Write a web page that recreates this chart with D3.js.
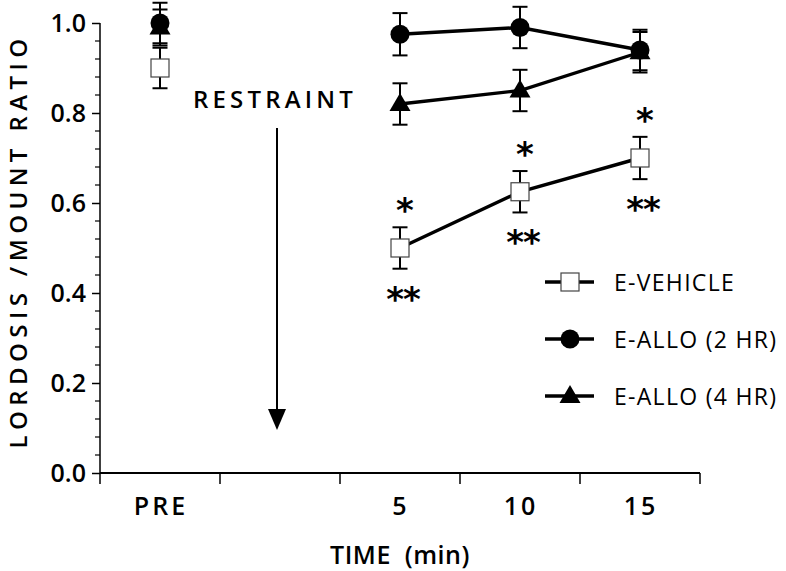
<!DOCTYPE html>
<html>
<head>
<meta charset="utf-8">
<script src="https://cdn.jsdelivr.net/npm/d3@7"></script>
<style>
  html, body { margin: 0; padding: 0; background: #fff; }
  svg { display: block; }
  text { font-family: "Open Sans", "DejaVu Sans", sans-serif; fill: #000; }
</style>
</head>
<body>
<svg id="chart" width="786" height="571"></svg>
<script>
// ---- data ----
const categories = ["PRE", "RESTRAINT", "5", "10", "15"];
const xTickLabels = ["PRE", "", "5", "10", "15"];
const yTickValues = [0.0, 0.2, 0.4, 0.6, 0.8, 1.0];
const seriesNames = ["E-VEHICLE", "E-ALLO (2 HR)", "E-ALLO (4 HR)"];
const vehicleMean = [0.90, null, 0.50, 0.625, 0.70];
const vehicleSem  = [0.045, null, 0.046, 0.046, 0.047];
const allo2Mean   = [1.00, null, 0.975, 0.99, 0.94];
const allo2Sem    = [0.045, null, 0.047, 0.046, 0.045];
const allo4Mean   = [0.99, null, 0.82, 0.85, 0.935];
const allo4Sem    = [0.040, null, 0.046, 0.046, 0.045];
const sigAbove    = ["", "", "*", "*", "*"];
const sigBelow    = ["", "", "**", "**", "**"];
const annotation  = "RESTRAINT";
const xTitle = "TIME  (min)";
const yTitle = "LORDOSIS /MOUNT RATIO";

// ---- layout ----
const svg = d3.select("#chart");
const mLeft = 100, mRight = 700, mTop = 23, mBottom = 473;

const x = d3.scaleBand().domain(categories).range([mLeft, mRight]).padding(0);
const y = d3.scaleLinear().domain([0, 1]).range([mBottom, mTop]);
const xc = c => x(c) + x.bandwidth() / 2;

// y axis
const yMinor = d3.range(0, 1.0001, 0.04).map(v => +v.toFixed(2));
const yAxis = d3.axisLeft(y).tickValues(yTickValues).tickFormat(d3.format(".1f")).tickSize(8).tickPadding(6);
const gy = svg.append("g").attr("transform", `translate(${mLeft},0)`).call(yAxis);
gy.select(".domain").attr("stroke", "#000").attr("stroke-width", 1.5).attr("d", `M0,${y(1)}V${y(0)}`);
gy.selectAll(".tick line").attr("stroke-width", 1.5);
gy.selectAll(".tick text").style("font-size", "25px").style("font-weight", "600")
  .style("font-family", "Open Sans").attr("dy", "0.35em");
svg.append("g").selectAll("line").data(yMinor.filter(v => !yTickValues.some(t => Math.abs(t - v) < 1e-6)))
  .join("line")
  .attr("x1", mLeft - 5).attr("x2", mLeft)
  .attr("y1", d => y(d)).attr("y2", d => y(d))
  .attr("stroke", "#000").attr("stroke-width", 1.2);

// x axis
svg.append("line").attr("x1", mLeft).attr("x2", mRight).attr("y1", y(0)).attr("y2", y(0))
  .attr("stroke", "#000").attr("stroke-width", 2);
const edges = categories.map(c => x(c)).concat([mRight]);
svg.append("g").selectAll("line").data(edges).join("line")
  .attr("x1", d => d).attr("x2", d => d)
  .attr("y1", y(0)).attr("y2", y(0) + 11)
  .attr("stroke", "#000").attr("stroke-width", 1.5);
svg.append("g").selectAll("text").data(categories).join("text")
  .attr("x", d => xc(d) + 1).attr("y", 515)
  .attr("text-anchor", "middle")
  .style("font-size", "25px").style("font-weight", "600").style("letter-spacing", "3px")
  .text((d, i) => xTickLabels[i]);

// titles
svg.append("text").attr("x", 400).attr("y", 564).attr("text-anchor", "middle")
  .style("font-size", "25px").style("font-weight", "600").style("letter-spacing", "0.5px")
  .attr("xml:space", "preserve").text(xTitle);
svg.append("text").attr("transform", "translate(27,241) rotate(-90)").attr("text-anchor", "middle")
  .style("font-size", "24px").style("font-weight", "600").style("letter-spacing", "5.4px")
  .attr("xml:space", "preserve")
  .text(yTitle);

// restraint annotation
svg.append("text").attr("x", 275).attr("y", 108).attr("text-anchor", "middle")
  .style("font-size", "24px").style("font-weight", "600").style("letter-spacing", "4.2px")
  .text(annotation);
const ax = xc("RESTRAINT") - 3;
svg.append("line").attr("x1", ax).attr("x2", ax).attr("y1", 128).attr("y2", 412)
  .attr("stroke", "#000").attr("stroke-width", 2);
svg.append("path").attr("d", `M${ax - 9},409L${ax + 9},409L${ax},430Z`).attr("fill", "#000");

// series
const series = [
  { name: seriesNames[0], mean: vehicleMean, sem: vehicleSem, shape: "square" },
  { name: seriesNames[2], mean: allo4Mean, sem: allo4Sem, shape: "triangle" },
  { name: seriesNames[1], mean: allo2Mean, sem: allo2Sem, shape: "circle" }
];

function drawMarker(g, shape, cx, cy) {
  if (shape === "square") {
    g.append("rect").attr("x", cx - 9).attr("y", cy - 9).attr("width", 18).attr("height", 18)
      .attr("fill", "#fff").attr("stroke", "#444").attr("stroke-width", 1.2);
  } else if (shape === "circle") {
    g.append("circle").attr("cx", cx).attr("cy", cy).attr("r", 9.5).attr("fill", "#000");
  } else {
    g.append("path").attr("d", `M${cx},${cy - 11}L${cx + 10.5},${cy + 7}L${cx - 10.5},${cy + 7}Z`).attr("fill", "#000");
  }
}

const line = d3.line().defined(d => d.v != null && d.c !== "PRE").x(d => xc(d.c)).y(d => y(d.v));

series.forEach(s => {
  const pts = categories.map((c, i) => ({ c, v: s.mean[i], e: s.sem[i] }));
  const g = svg.append("g");
  g.append("path").datum(pts).attr("d", line).attr("fill", "none")
    .attr("stroke", "#000").attr("stroke-width", 3.4);
  pts.filter(p => p.v != null).forEach(p => {
    const cx = xc(p.c);
    g.append("line").attr("x1", cx).attr("x2", cx).attr("y1", y(p.v + p.e)).attr("y2", y(p.v - p.e))
      .attr("stroke", "#000").attr("stroke-width", 2);
    [p.v + p.e, p.v - p.e].forEach(v => {
      g.append("line").attr("x1", cx - 7.5).attr("x2", cx + 7.5).attr("y1", y(v)).attr("y2", y(v))
        .attr("stroke", "#000").attr("stroke-width", 2);
    });
  });
  pts.filter(p => p.v != null).forEach(p => drawMarker(g, s.shape, xc(p.c), y(p.v)));
});

// significance marks (vehicle)
const fs = 34;
categories.forEach((c, i) => {
  if (vehicleMean[i] == null) return;
  if (sigAbove[i]) {
    svg.append("text").attr("x", xc(c) + 5).attr("y", y(vehicleMean[i] + vehicleSem[i]) - 24 + 0.56 * fs)
      .attr("text-anchor", "middle")
      .style("font-family", "DejaVu Sans").style("font-size", fs + "px").style("font-weight", "bold")
      .text(sigAbove[i]);
  }
  if (sigBelow[i]) {
    svg.append("text").attr("x", xc(c) + 3).attr("y", y(vehicleMean[i] - vehicleSem[i]) + 23 + 0.56 * fs)
      .attr("text-anchor", "middle")
      .style("font-family", "DejaVu Sans").style("font-size", fs + "px").style("font-weight", "bold")
      .style("letter-spacing", "-1px")
      .text(sigBelow[i]);
  }
});

// legend
const legendOrder = [
  { name: seriesNames[0], shape: "square" },
  { name: seriesNames[1], shape: "circle" },
  { name: seriesNames[2], shape: "triangle" }
];
const lg = svg.append("g");
legendOrder.forEach((d, i) => {
  const ly = 282 + i * 57;
  lg.append("line").attr("x1", 545).attr("x2", 594).attr("y1", ly).attr("y2", ly)
    .attr("stroke", "#000").attr("stroke-width", 3.4);
  drawMarker(lg, d.shape, 570, ly);
  lg.append("text").attr("x", 614).attr("y", ly + 8.5)
    .style("font-size", "23px").style("font-weight", "500").style("letter-spacing", "1.3px")
    .text(d.name);
});
</script>
</body>
</html>
